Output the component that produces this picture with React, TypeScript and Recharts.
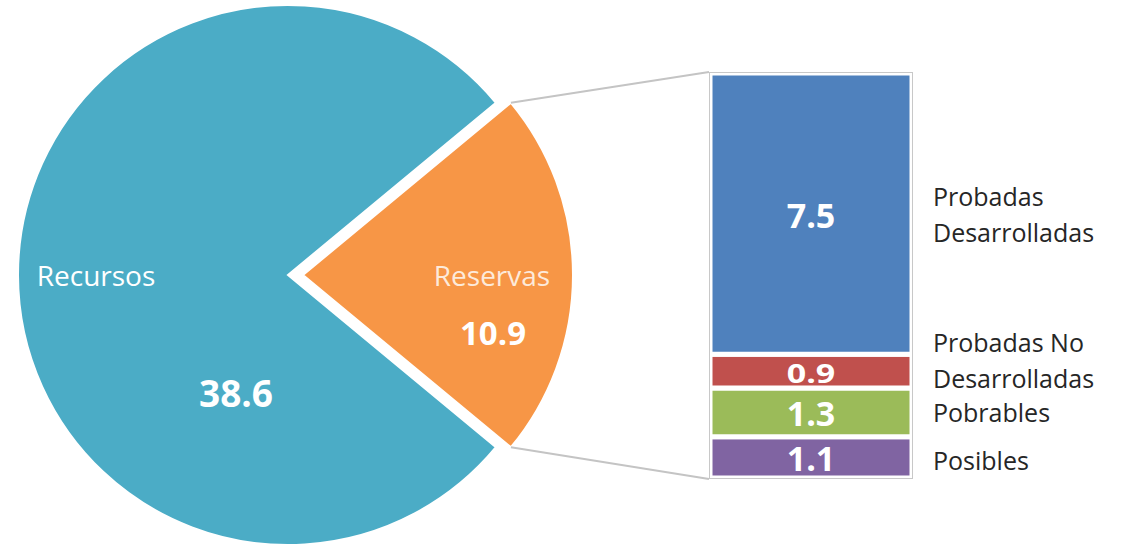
import React from 'react';
import { PieChart, Pie, Cell, BarChart, Bar, XAxis, YAxis, LabelList } from 'recharts';

// pie: total resources split
const pieNames = ['Recursos', 'Reservas'];
const pieValues = [38.6, 10.9];
const pieColors = ['#4BACC6', '#F79646'];

// bar: breakdown of reserves (top to bottom)
const stackLabels = [['Probadas', 'Desarrolladas'], ['Probadas No', 'Desarrolladas'], ['Pobrables'], ['Posibles']];
const stackValues = [7.5, 0.9, 1.3, 1.1];
const stackColors = ['#4F81BD', '#C0504D', '#9BBB59', '#8064A2'];

const FONT = '"Open Sans", Calibri, sans-serif';
const pieTotal = pieValues.reduce((a, b) => a + b, 0);
const halfAngle = (pieValues[1] / pieTotal) * 180;
const stackTotal = stackValues.reduce((a, b) => a + b, 0);

const pieData = pieNames.map((name, i) => ({ name, value: pieValues[i] }));
const barRow: Record<string, any> = { name: 'Reservas' };
stackValues.forEach((v, i) => { barRow['s' + i] = v; });
const barData = [barRow];

// box around the stacked bar
const BOX = { left: 709, top: 72, width: 204, height: 407 };

const renderPieLabel = (focus: number) => (props: any) => {
  const { cx, cy, outerRadius, index } = props;
  if (index !== focus) return null;
  if (index === 0) {
    return (
      <g>
        <text x={cx - 192} y={cy} textAnchor="middle" dominantBaseline="central" fill="#fff" fontSize={28} fontFamily={FONT}>
          {pieNames[0]}
        </text>
        <text x={cx - 52} y={cy + 117} textAnchor="middle" dominantBaseline="central" fill="#fff" fontSize={37} fontWeight="bold" fontFamily={FONT}>
          {pieValues[0].toFixed(1)}
        </text>
      </g>
    );
  }
  const rad = (halfAngle * Math.PI) / 180;
  const tx = cx + outerRadius * Math.cos(rad);
  const tyTop = cy - outerRadius * Math.sin(rad);
  const tyBot = cy + outerRadius * Math.sin(rad);
  return (
    <g>
      <line x1={tx} y1={tyTop} x2={BOX.left} y2={BOX.top} stroke="#c4c4c4" strokeWidth={2} />
      <line x1={tx} y1={tyBot} x2={BOX.left} y2={BOX.top + BOX.height} stroke="#c4c4c4" strokeWidth={2} />
      <text x={cx + 189} y={cy} textAnchor="middle" dominantBaseline="central" fill="#FDEADA" fontSize={28} fontFamily={FONT}>
        {pieNames[1]}
      </text>
      <text x={cx + 190} y={cy + 57} textAnchor="middle" dominantBaseline="central" fill="#fff" fontSize={33} fontWeight="bold" fontFamily={FONT}>
        {pieValues[1].toFixed(1)}
      </text>
    </g>
  );
};

const renderSideLabel = (i: number) => (props: any) => {
  const { x, y, width, height } = props;
  const lines = stackLabels[i];
  const lh = 36;
  const shift = i === 1 ? -11 : i === 3 ? 3 : 0;
  const cy = y + height / 2 + shift - ((lines.length - 1) * lh) / 2;
  return (
    <text x={x + width + 21} y={cy} fill="#262626" fontSize={25} fontFamily={FONT}>
      {lines.map((l, k) => (
        <tspan key={k} x={x + width + 21} y={cy + k * lh} dominantBaseline="central">{l}</tspan>
      ))}
    </text>
  );
};

const renderValueLabel = (props: any) => {
  const { x, y, width, height, value } = props;
  // squeeze the text vertically when the segment is thin
  const s = Math.min(1, (height - 3) / 38);
  return (
    <text
      transform={`translate(${x + width / 2},${y + height / 2 + 1}) scale(1,${s})`}
      x={0}
      y={0}
      textAnchor="middle"
      dominantBaseline="central"
      fill="#fff"
      fontSize={34}
      fontWeight="bold"
      fontFamily={FONT}
    >
      {Number(value).toFixed(1)}
    </text>
  );
};

export default function App() {
  const order = [3, 2, 1, 0];
  return (
    <div style={{ position: 'absolute', left: 0, top: 0, width: 1122, height: 546, background: '#fff' }}>
      <div style={{ position: 'absolute', left: 0, top: 0 }}>
        <PieChart width={1122} height={546} margin={{ top: 0, right: 0, bottom: 0, left: 0 }}>
          <Pie
            data={pieData}
            dataKey="value"
            cx={288}
            cy={275}
            outerRadius={270}
            startAngle={halfAngle}
            endAngle={halfAngle + 360}
            label={renderPieLabel(0)}
            labelLine={false}
            isAnimationActive={false}
          >
            <Cell fill={pieColors[0]} stroke="#fff" strokeWidth={2} />
            <Cell fill="transparent" stroke="none" />
          </Pie>
          <Pie
            data={pieData}
            dataKey="value"
            cx={303}
            cy={275}
            outerRadius={270}
            startAngle={halfAngle}
            endAngle={halfAngle + 360}
            label={renderPieLabel(1)}
            labelLine={false}
            isAnimationActive={false}
          >
            <Cell fill="transparent" stroke="none" />
            <Cell fill={pieColors[1]} stroke="#fff" strokeWidth={2} />
          </Pie>
        </PieChart>
      </div>
      <div style={{ position: 'absolute', left: BOX.left, top: BOX.top }}>
        <BarChart
          width={413}
          height={BOX.height}
          data={barData}
          margin={{ top: 1, right: 210, bottom: 1, left: 1 }}
          barCategoryGap={0}
          barGap={0}
        >
          <XAxis dataKey="name" hide />
          <YAxis hide domain={[0, stackTotal]} />
          {order.map((i) => (
            <Bar key={i} dataKey={'s' + i} stackId="r" fill={stackColors[i]} stroke="#fff" strokeWidth={5} isAnimationActive={false}>
              <LabelList dataKey={'s' + i} content={renderValueLabel} />
              <LabelList dataKey={'s' + i} content={renderSideLabel(i)} />
            </Bar>
          ))}
        </BarChart>
      </div>
      <div
        style={{
          position: 'absolute', left: BOX.left, top: BOX.top, width: BOX.width - 2, height: BOX.height - 2,
          border: '1px solid #c8c8c8', pointerEvents: 'none',
        }}
      />
    </div>
  );
}
